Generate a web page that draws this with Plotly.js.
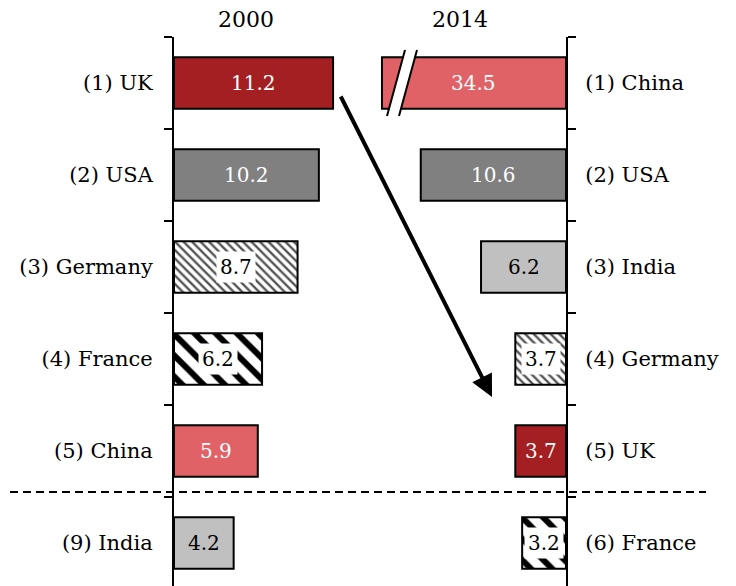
<!DOCTYPE html>
<html>
<head>
<meta charset="utf-8">
<script src="https://cdn.plot.ly/plotly-3.0.1.min.js"></script>
<style>
html,body{margin:0;padding:0;background:#fff;overflow:hidden;}
#chart{width:736px;height:586px;}
</style>
</head>
<body>
<div id="chart"></div>
<script>
// ---- data ----
const yearLeft = "2000";
const yearRight = "2014";
const leftLabels = ["(1) UK", "(2) USA", "(3) Germany", "(4) France", "(5) China", "(9) India"];
const leftCountries = ["UK", "USA", "Germany", "France", "China", "India"];
const leftValues = [11.2, 10.2, 8.7, 6.2, 5.9, 4.2];
const rightLabels = ["(1) China", "(2) USA", "(3) India", "(4) Germany", "(5) UK", "(6) France"];
const rightCountries = ["China", "USA", "India", "Germany", "UK", "France"];
const rightValues = [34.5, 10.6, 6.2, 3.7, 3.7, 3.2];

// ---- styles ----
const FONT = "DejaVu Serif, Georgia, serif";
const styles = {
  UK:      {color: "#a31f22", text: "#ffffff", bg: null, shape: ""},
  USA:     {color: "#808080", text: "#ffffff", bg: null, shape: ""},
  China:   {color: "#e06266", text: "#ffffff", bg: null, shape: ""},
  India:   {color: "#c0c0c0", text: "#000000", bg: null, shape: ""},
  Germany: {color: "#ffffff", text: "#000000", bg: "#ffffff", shape: "\\", size: 6, solidity: 0.4, fg: "#555555"},
  France:  {color: "#ffffff", text: "#000000", bg: "#ffffff", shape: "\\", size: 15, solidity: 0.4, fg: "#000000"}
};

// pixel geometry of the frame
const W = 736, H = 586;
const mL = 174, mR = 170, mT = 37, mB = 0;
const pw = W - mL - mR, ph = H - mT - mB;
const px = x => (x - mL) / pw;
const py = y => 1 - (y - mT) / ph;

const leftMax = 13.8;
const rightMax = 13.5;
const rowRange = [5.5 - 3 / 92, -0.5];

function barTraces(labels, countries, values, xa, ya) {
  return values.map((v, i) => {
    const s = styles[countries[i]];
    const marker = {color: s.color, line: {color: "#000000", width: 2}};
    if (s.shape) {
      marker.pattern = {shape: s.shape, size: s.size, solidity: s.solidity, fgcolor: s.fg, bgcolor: "#ffffff", fillmode: "replace"};
    }
    return {
      type: "bar", orientation: "h",
      x: [v], y: [labels[i]],
      xaxis: xa, yaxis: ya,
      width: 0.56,
      marker: marker,
      hoverinfo: "skip",
      showlegend: false
    };
  });
}

function valueAnnots(labels, countries, values, xa, ya, maxV) {
  return values.map((v, i) => {
    const s = styles[countries[i]];
    const a = {
      xref: xa, yref: ya,
      x: Math.min(v, maxV) / 2, y: labels[i],
      text: v.toFixed(1),
      showarrow: false,
      font: {family: FONT, size: 20, color: s.text},
      xanchor: "center", yanchor: "middle"
    };
    if (s.bg) { a.bgcolor = s.bg; a.borderpad = 3; }
    return a;
  });
}

const traces = barTraces(leftLabels, leftCountries, leftValues, "x", "y")
  .concat(barTraces(rightLabels, rightCountries, rightValues, "x2", "y2"));

const yCommon = {
  type: "category",
  range: rowRange,
  showline: true, linecolor: "#000", linewidth: 2,
  ticks: "outside", tickson: "boundaries", ticklen: 8, tickwidth: 2, tickcolor: "#000",
  tickfont: {family: FONT, size: 21, color: "#000"},
  showgrid: false, zeroline: false, automargin: false, fixedrange: true
};

const layout = {
  width: W, height: H,
  margin: {l: mL, r: mR, t: mT, b: mB, pad: 0},
  paper_bgcolor: "#fff", plot_bgcolor: "rgba(0,0,0,0)",
  showlegend: false,
  barmode: "overlay",
  xaxis: {domain: [0, 0.5], range: [0, leftMax], visible: false, fixedrange: true},
  xaxis2: {domain: [px(381), 1], range: [rightMax, 0], visible: false, fixedrange: true},
  yaxis: Object.assign({}, yCommon, {anchor: "x", side: "left", ticklabelstandoff: 15, categoryorder: "array", categoryarray: leftLabels}),
  yaxis2: Object.assign({}, yCommon, {anchor: "x2", side: "right", ticklabelstandoff: 13, categoryorder: "array", categoryarray: rightLabels}),
  annotations: [
    {xref: "paper", yref: "paper", x: px(246), y: py(20), text: yearLeft, showarrow: false,
     font: {family: FONT, size: 22, color: "#000"}, xanchor: "center", yanchor: "middle"},
    {xref: "paper", yref: "paper", x: px(460), y: py(20), text: yearRight, showarrow: false,
     font: {family: FONT, size: 22, color: "#000"}, xanchor: "center", yanchor: "middle"},
    {xref: "paper", yref: "paper", x: px(492), y: py(397), ax: 340 - 492, ay: 95 - 397,
     axref: "pixel", ayref: "pixel", text: "", showarrow: true,
     arrowhead: 2, arrowsize: 1.1, arrowwidth: 4, arrowcolor: "#000"}
  ]
    .concat(valueAnnots(leftLabels, leftCountries, leftValues, "x", "y", leftMax))
    .concat(valueAnnots(rightLabels, rightCountries, rightValues, "x2", "y2", rightMax)),
  shapes: [
    {type: "line", xref: "paper", yref: "paper", x0: px(10), x1: px(706), y0: py(492), y1: py(492),
     line: {color: "#000", width: 2, dash: "8px,5px"}, layer: "above"},
    {type: "line", xref: "paper", yref: "paper", x0: px(382), x1: px(382), y0: py(57), y1: py(108),
     line: {color: "#000", width: 2}, layer: "above"},
    {type: "path", xref: "paper", yref: "paper",
     path: `M ${px(387)} ${py(116)} L ${px(405)} ${py(50)} L ${px(417)} ${py(50)} L ${px(399)} ${py(116)} Z`,
     fillcolor: "#fff", line: {width: 0}, layer: "above"},
    {type: "line", xref: "paper", yref: "paper", x0: px(387), x1: px(405), y0: py(116), y1: py(50),
     line: {color: "#000", width: 2}, layer: "above"},
    {type: "line", xref: "paper", yref: "paper", x0: px(399), x1: px(417), y0: py(116), y1: py(50),
     line: {color: "#000", width: 2}, layer: "above"}
  ]
};

Plotly.newPlot("chart", traces, layout, {displayModeBar: false, staticPlot: true});
</script>
</body>
</html>
